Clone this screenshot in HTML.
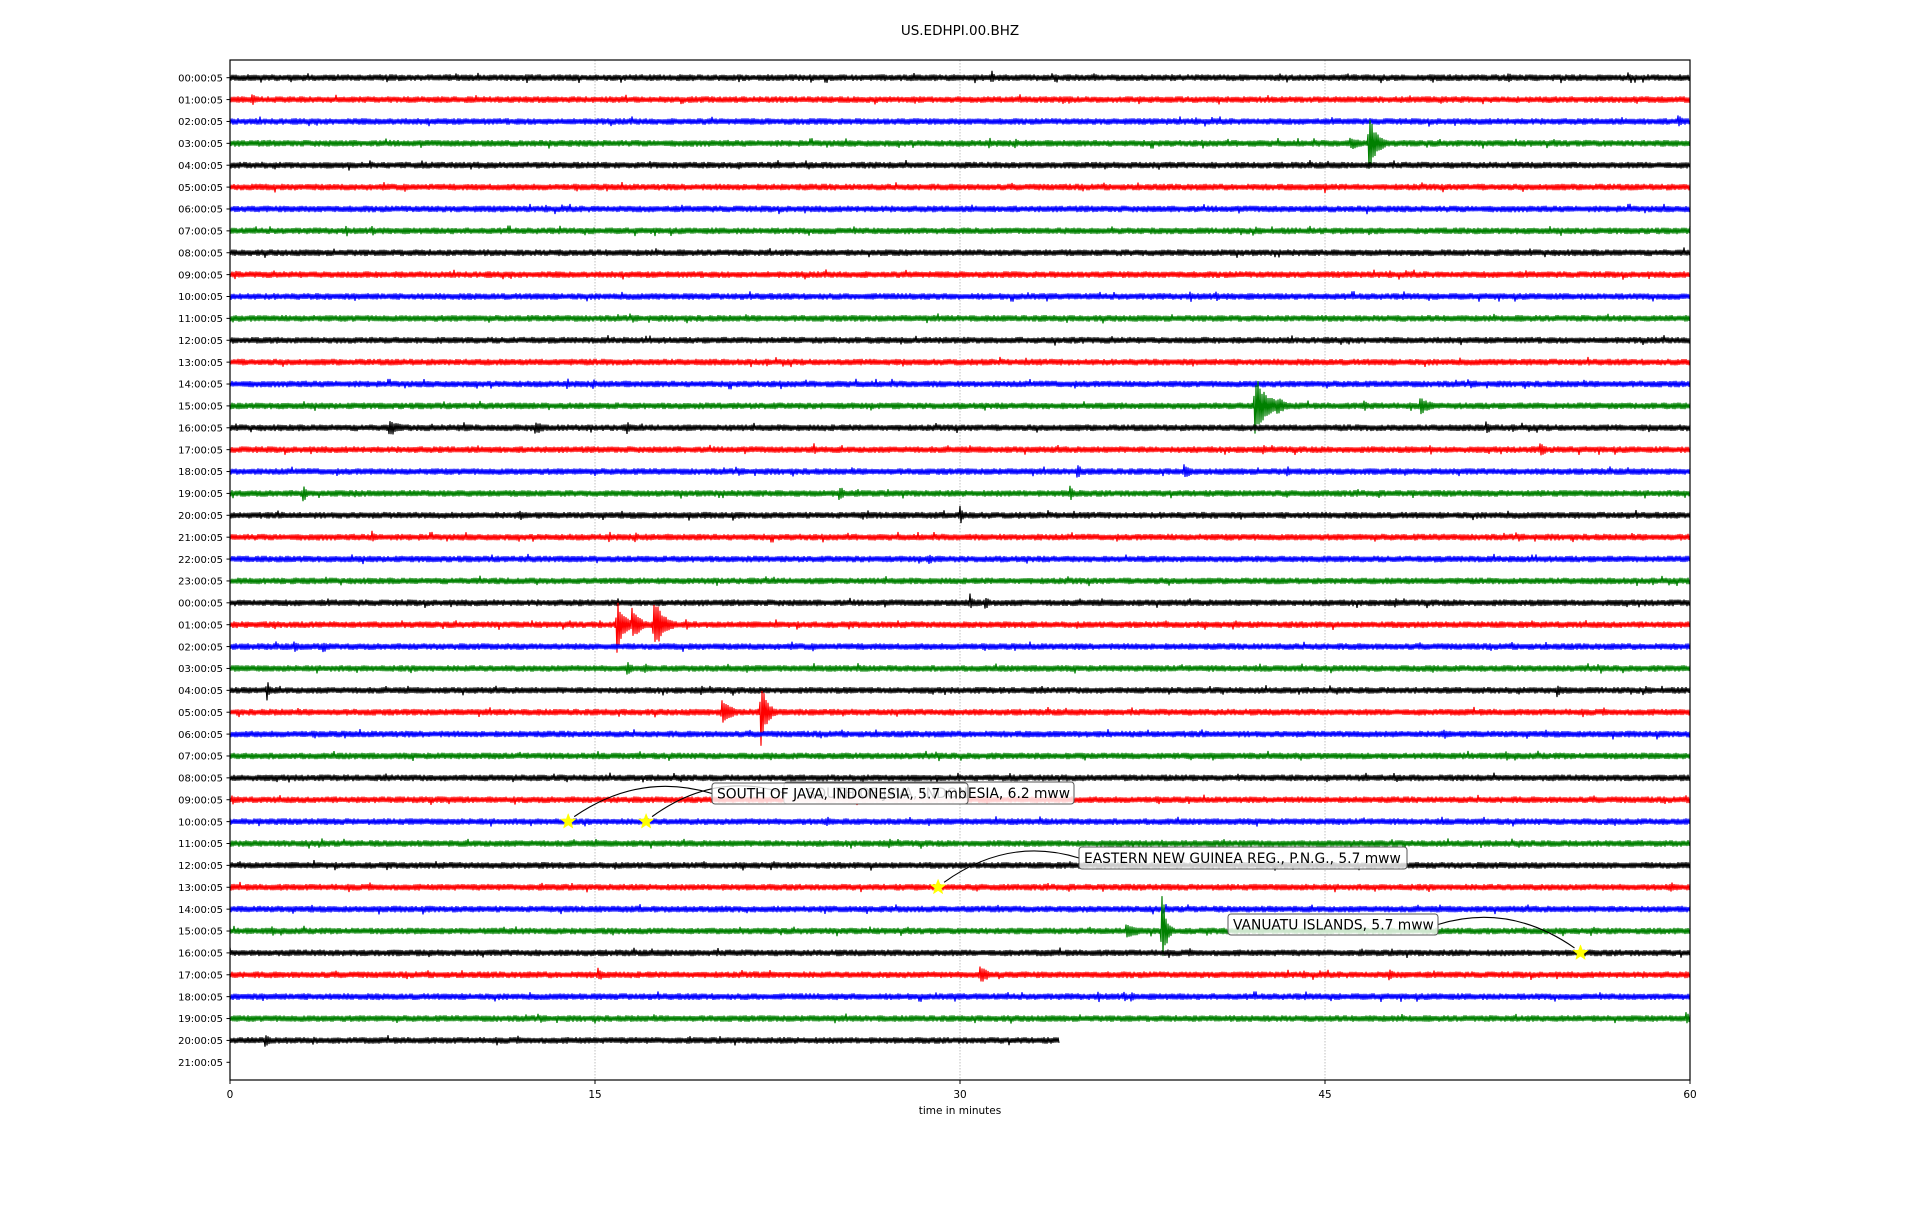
<!DOCTYPE html>
<html><head><meta charset="utf-8"><style>
html,body{margin:0;padding:0;background:#fff;}
svg text{font-family:"DejaVu Sans","Liberation Sans",sans-serif;fill:#000;}
</style></head><body>
<svg id="chart" width="1920" height="1200" viewBox="0 0 1920 1200" xmlns="http://www.w3.org/2000/svg">
<rect x="0" y="0" width="1920" height="1200" fill="#fff"/>
<text x="960" y="35" font-size="13.5" text-anchor="middle">US.EDHPI.00.BHZ</text>
<g id="grid"></g>
<g id="traces"></g>
<g id="ticks"></g>
<g id="annots"></g>
<rect x="230" y="60" width="1460" height="1020" fill="none" stroke="#000" stroke-width="1.2"/>
<text x="960" y="1114" font-size="10.5" text-anchor="middle">time in minutes</text>
</svg>
<script>
const rowLabels = [];
for (let d = 0; d < 2; d++) for (let h = 0; h < 24; h++) { if (d === 1 && h > 21) break; rowLabels.push(String(h).padStart(2,'0') + ':00:05'); }
const xTicks = [0, 15, 30, 45, 60];
const rowEndMinutes = {44: 34.1, 45: 0};
// events: [row, minute, amplitude(px), duration(min)]
const evRows = [0,0,0,1,2,3,3,15,15,15,15,16,16,16,16,16,17,17,17,18,18,18,19,19,19,19,20,20,22,24,24,25,25,25,25,25,26,26,27,28,28,29,29,29,29,35,39,39,41,41,41,41,42,43,44,44,21,14,5,9,11,12,33];
const evMins = [31.3,52.5,35.5,0.9,59.5,46.8,46.0,42.1,43.0,48.9,46.6,6.5,12.5,16.3,51.6,9.6,53.8,49.3,24.0,34.8,39.2,43.4,3.0,25.0,34.5,5.1,30.0,26.0,28.7,30.4,31.0,15.9,16.5,17.4,18.7,15.2,2.6,3.8,16.3,1.5,54.5,20.2,21.8,22.1,23.4,38.3,38.3,36.8,15.1,21.5,30.8,47.6,37.0,59.8,1.4,3.4,5.8,42.1,45.0,0.2,0.1,0.1,0.1];
const evAmps = [6,5,4,6,6,22,6,26,9,8,5,8,7,7,6,5,6,5,5,6,7,6,8,8,8,4,8,4,6,8,7,22,14,22,5,4,6,5,7,9,6,13,30,8,4,4,32,6,6,4,9,7,6,6,7,4,6,4,5,4,4,4,4];
const evDurs = [0.3,0.4,0.3,0.3,0.4,0.6,0.8,0.8,0.6,0.8,0.3,0.8,0.7,0.3,0.4,0.4,0.6,0.3,0.3,0.5,0.5,0.4,0.3,0.4,0.3,0.3,0.3,0.3,0.3,0.3,0.4,0.5,0.6,0.7,0.5,0.3,0.4,0.6,0.4,0.3,0.5,0.6,0.4,0.5,0.3,0.3,0.3,1.3,0.5,0.6,0.6,0.3,0.3,0.4,0.4,0.3,0.3,0.3,0.3,0.3,0.3,0.3,0.3];
const colors = ['#000000','#ff0000','#0000ff','#008000'];

const X0 = 230, X1 = 1690, Y0row = 77.7, dRow = 21.88;
const xScale = m => X0 + (m / 60) * (X1 - X0);
const yRow = i => Y0row + i * dRow;
const NS = 'http://www.w3.org/2000/svg';
function mk(tag, attrs, parent) { const e = document.createElementNS(NS, tag); for (const k in attrs) e.setAttribute(k, attrs[k]); parent.appendChild(e); return e; }

let seed = 12345;
function rnd() { seed = (seed * 1103515245 + 12345) & 0x7fffffff; return seed / 0x7fffffff; }

const grid = document.getElementById('grid');
[15, 30, 45].forEach(m => {
  const l = mk('line', {x1: xScale(m), x2: xScale(m), y1: 60, y2: 1080, stroke: '#b0b0b0', 'stroke-width': 0.8, 'stroke-dasharray': '1.5,1.5'}, grid);
  
  
});

const traces = document.getElementById('traces');
rowLabels.forEach((lab, i) => {
  const endM = (i in rowEndMinutes) ? rowEndMinutes[i] : 60;
  if (endM <= 0) return;
  const base = yRow(i);
  const evs = [];
  for (let k = 0; k < evRows.length; k++) if (evRows[k] === i) evs.push([evMins[k], evAmps[k], evDurs[k]]);
  let d = '';
  const xe = xScale(endM);
  let n = 0;
  for (let x = X0; x <= xe; x += 1) {
    const m = (x - X0) / (X1 - X0) * 60;
    let amp = 2.0 + rnd() * 1.3;
    if (rnd() < 0.012) amp += 2;
    for (const [em, ea, ed] of evs) {
      const dt = m - em;
      if (dt >= -0.04 && dt < ed * 1.5) {
        const env = dt < 0 ? 0.35 : Math.exp(-dt / ed * 1.6);
        amp = Math.max(amp, 1.3 * ea * env * (0.65 + rnd() * 0.35));
      }
    }
    const s = (n % 2 === 0) ? -1 : 1;
    d += (n === 0 ? 'M' : 'L') + x.toFixed(1) + ',' + (base + s * amp).toFixed(1);
    n++;
  }
  const p = mk('path', {d: d, fill: 'none', stroke: colors[i % 4], 'stroke-width': 1.2}, traces);
  
  
});

const ticks = document.getElementById('ticks');
rowLabels.forEach((lab, i) => {
  const y = yRow(i);
  const t = mk('line', {x1: 226.5, x2: 230, y1: y, y2: y, stroke: '#000', 'stroke-width': 1}, ticks);
  
  
  const tx = mk('text', {x: 223, y: y + 3.7, 'font-size': 10, 'text-anchor': 'end'}, ticks);
  tx.textContent = lab;
  
  
});
xTicks.forEach(v => {
  const x = xScale(v);
  const t = mk('line', {x1: x, x2: x, y1: 1080, y2: 1084, stroke: '#000', 'stroke-width': 1}, ticks);
  
  
  const tx = mk('text', {x: x, y: 1098, 'font-size': 10.5, 'text-anchor': 'middle'}, ticks);
  tx.textContent = String(v);
  
  
});

// annotations
const quakeRows = [34, 34, 37, 40];
const quakeMins = [13.9, 17.1, 29.1, 55.5];
const quakeText = ['SOUTH OF JAVA, INDONESIA, 5.7 mb', 'SOUTH OF JAVA, INDONESIA, 6.2 mww', 'EASTERN NEW GUINEA REG., P.N.G., 5.7 mww', 'VANUATU ISLANDS, 5.7 mww'];
const boxes = [[712, 783, 256, 21], [784, 782, 290, 22], [1079, 847, 328, 22], [1228, 914, 210, 21]];
const an = document.getElementById('annots');
function star(cx, cy, r) {
  let pts = [];
  for (let k = 0; k < 10; k++) { const a = -Math.PI / 2 + k * Math.PI / 5; const rr = k % 2 ? r * 0.42 : r; pts.push((cx + rr * Math.cos(a)).toFixed(1) + ',' + (cy + rr * Math.sin(a)).toFixed(1)); }
  return pts.join(' ');
}
const order = [1, 0, 2, 3];
order.forEach(k => {
  const sx = xScale(quakeMins[k]), sy = yRow(quakeRows[k]);
  const [bx, by, bw, bh] = boxes[k];
  const tx = (k === 3) ? bx + bw : bx;
  const ty = by + bh / 2;
  const c = mk('path', {d: `M${sx + (k===3?-6:6)},${sy - 5} Q${(sx+tx)/2},${ty - 22} ${tx},${ty}`, fill: 'none', stroke: '#000', 'stroke-width': 1.1}, an);
  
  
  const r = mk('rect', {x: bx, y: by, width: bw, height: bh, rx: 3, fill: '#fff', 'fill-opacity': 0.8, stroke: '#555', 'stroke-width': 1}, an);
  
  
  const t = mk('text', {x: k === 1 ? bx + bw - 4 : bx + 5, y: by + bh / 2 + 5, 'font-size': 13.8, 'text-anchor': k === 1 ? 'end' : 'start'}, an);
  t.textContent = quakeText[k];
  
  
});
quakeRows.forEach((row, k) => {
  const s = mk('polygon', {points: star(xScale(quakeMins[k]), yRow(row), 8), fill: '#ffff00', stroke: '#ffff00', 'stroke-width': 0.5}, an);
  
  
});
</script>
</body></html>
